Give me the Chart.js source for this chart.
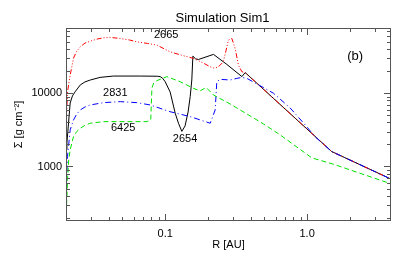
<!DOCTYPE html>
<html>
<head>
<meta charset="utf-8">
<title>Simulation Sim1</title>
<script src="https://cdn.jsdelivr.net/npm/chart.js@4.4.0/dist/chart.umd.min.js"></script>
<style>
  body { margin: 0; background: #fff; }
</style>
</head>
<body>
<canvas id="sigmaChart" width="415" height="270"></canvas>
<script>
// radius [AU] / surface density for each snapshot
const rRed = [0.0201, 0.0205, 0.0214, 0.0226, 0.0238, 0.0252, 0.0272, 0.0297, 0.0330, 0.0366, 0.041, 0.0482, 0.0560, 0.0632, 0.0750, 0.0875, 0.108, 0.130, 0.158, 0.185, 0.2075, 0.222, 0.236, 0.256, 0.268, 0.279, 0.295, 0.311, 0.328, 0.347, 0.366, 1.49, 3.9]
const sigRed = [4060, 10500, 17700, 30300, 37500, 43200, 48500, 51600, 55000, 57200, 58000, 56100, 53500, 50500, 48000, 45500, 36900, 33200, 30000, 26000, 23000, 22000, 22800, 26700, 38000, 53200, 56100, 41000, 24300, 19700, 19200, 1600, 673]

const rBlack = [0.0201, 0.0203, 0.0214, 0.0222, 0.0232, 0.0252, 0.0272, 0.0297, 0.0348, 0.0431, 0.0667, 0.0880, 0.0922, 0.0960, 0.1, 0.1084, 0.1176, 0.124, 0.131, 0.138, 0.145, 0.150, 0.154, 0.1567, 0.1640, 0.1717, 0.219, 0.272, 0.347, 0.366, 1.49, 3.9]
const sigBlack = [1690, 2100, 7380, 9200, 10500, 13000, 14300, 15200, 16500, 17200, 17200, 17100, 16900, 16000, 14400, 10400, 5350, 3900, 3020, 3580, 5560, 9000, 15200, 32200, 29500, 29000, 34000, 24800, 16900, 19200, 1600, 673]

const rBlue = [0.0201, 0.0205, 0.0214, 0.0226, 0.0238, 0.0252, 0.0272, 0.0297, 0.0367, 0.0482, 0.0632, 0.0784, 0.108, 0.150, 0.2075, 0.225, 0.231, 0.244, 0.287, 0.320, 0.347, 0.376, 0.460, 0.580, 0.759, 0.969, 1.14, 1.49, 3.9]
const sigBlue = [564, 1370, 3160, 4330, 5200, 5910, 6500, 6930, 7450, 7690, 7450, 6930, 5610, 4800, 3900, 5920, 14400, 15500, 15200, 16000, 16500, 16000, 12900, 10000, 6310, 3700, 2540, 1600, 673]

const rGreen = [0.0202, 0.0205, 0.0209, 0.0214, 0.0226, 0.0238, 0.0252, 0.0272, 0.0297, 0.0367, 0.0537, 0.0743, 0.0791, 0.0806, 0.0830, 0.0875, 0.1028, 0.1275, 0.158, 0.176, 0.1945, 0.219, 0.287, 0.376, 0.492, 0.646, 1.08, 1.52, 3.9]
const sigGreen = [301, 659, 1230, 1690, 2570, 3000, 3330, 3650, 3900, 4100, 4100, 4100, 4330, 11800, 13800, 14900, 16900, 14400, 11700, 10800, 12000, 9480, 7140, 5220, 3820, 2700, 1310, 1080, 580]

// curve labels
const noteText = ['2665', '2831', '6425', '2654', '(b)']
const noteR = [0.1016, 0.0445, 0.0506, 0.138, 2.18]
const noteSig = [62200, 10000, 3330, 2380, 31500]

const xTickVals = [0.1, 1]
const xTickText = ['0.1', '1.0']
const yTickVals = [1000, 10000]
const yTickText = ['1000', '10000']

const FONT = '"Liberation Sans", Arial, Helvetica, sans-serif'

function pts(rs, ss) {
    return rs.map((r, i) => ({x: r, y: ss[i]}))
}

function line(data, color, dash) {
    return {
        data: data,
        showLine: true,
        borderColor: color,
        borderWidth: 1,
        borderDash: dash,
        pointRadius: 0,
        tension: 0,
        fill: false
    }
}

// IDL-style box with inward ticks on all four sides, plus title and notes
const framePlugin = {
    id: 'frame',
    afterDatasetsDraw(chart) {
        const {ctx, chartArea: a, scales: {x, y}} = chart
        ctx.save()
        ctx.strokeStyle = '#555'
        ctx.lineWidth = 1
        ctx.strokeRect(a.left + 0.5, a.top + 0.5, a.right - a.left - 1, a.bottom - a.top - 1)
        ctx.beginPath()
        function logTicks(scale) {
            const out = []
            for (let e = Math.floor(Math.log10(scale.min)); e <= Math.ceil(Math.log10(scale.max)); e++) {
                for (let k = 1; k <= 9; k++) {
                    const v = k * Math.pow(10, e)
                    if (v > scale.min && v < scale.max) out.push({v: v, major: k === 1})
                }
            }
            return out
        }
        logTicks(x).forEach(t => {
            const px = Math.round(x.getPixelForValue(t.v)) + 0.5
            const len = t.major ? 7 : 4
            ctx.moveTo(px, a.bottom); ctx.lineTo(px, a.bottom - len)
            ctx.moveTo(px, a.top); ctx.lineTo(px, a.top + len)
        })
        logTicks(y).forEach(t => {
            const py = Math.round(y.getPixelForValue(t.v)) + 0.5
            const len = t.major ? 7 : 4
            ctx.moveTo(a.left, py); ctx.lineTo(a.left + len, py)
            ctx.moveTo(a.right, py); ctx.lineTo(a.right - len, py)
        })
        ctx.stroke()

        ctx.fillStyle = '#000'
        ctx.textAlign = 'center'
        ctx.textBaseline = 'middle'
        ctx.font = '11px ' + FONT
        noteText.forEach((t, i) => {
            if (t === '(b)') ctx.font = '13px ' + FONT
            ctx.fillText(t, x.getPixelForValue(noteR[i]), y.getPixelForValue(noteSig[i]))
        })
        ctx.font = '13px ' + FONT
        ctx.fillText('Simulation Sim1', (a.left + a.right) / 2 - 6, 18)
        ctx.restore()
    }
}

var options = {
    type: 'scatter',
    data: {
        datasets: [
            line(pts(rGreen, sigGreen), '#00e000', [5, 3]),
            line(pts(rBlue, sigBlue), '#0000ff', [6, 3, 1, 3]),
            line(pts(rRed, sigRed), '#ff0000', [5, 2, 1, 2, 1, 2, 1, 2]),
            line(pts(rBlack, sigBlack), '#000000', [])
        ]
    },
    options: {
        responsive: false,
        animation: false,
        layout: {
            padding: {top: 28, right: 24, bottom: 0, left: 0}
        },
        plugins: {
            legend: {display: false},
            tooltip: {enabled: false},
            title: {display: false}
        },
        scales: {
            x: {
                type: 'logarithmic',
                min: 0.02,
                max: 3.9,
                grid: {display: false, drawTicks: false},
                border: {display: false},
                afterBuildTicks: s => { s.ticks = xTickVals.map(v => ({value: v})) },
                afterFit: s => { s.height = 49 },
                ticks: {
                    autoSkip: false,
                    maxRotation: 0,
                    padding: 6,
                    color: '#000',
                    font: {family: FONT, size: 11},
                    callback: v => xTickText[xTickVals.findIndex(t => Math.abs(t - v) < 1e-9)] || ''
                },
                title: {
                    display: true,
                    text: 'R [AU]',
                    color: '#000',
                    font: {family: FONT, size: 11},
                    padding: {top: 0, bottom: 18}
                }
            },
            y: {
                type: 'logarithmic',
                min: 180,
                max: 78000,
                grid: {display: false, drawTicks: false},
                border: {display: false},
                afterBuildTicks: s => { s.ticks = yTickVals.map(v => ({value: v})) },
                afterFit: s => { s.width = 66 },
                ticks: {
                    autoSkip: false,
                    padding: 4,
                    color: '#000',
                    font: {family: FONT, size: 11},
                    callback: v => yTickText[yTickVals.findIndex(t => Math.abs(t - v) < 1e-6)] || ''
                },
                title: {
                    display: true,
                    text: 'Σ [g cm⁻²]',
                    color: '#000',
                    font: {family: FONT, size: 11},
                    padding: {top: 12, bottom: 0}
                }
            }
        }
    },
    plugins: [framePlugin]
}

var context = document.getElementById('sigmaChart').getContext('2d')
var sigmaChart = new Chart(context, options)
</script>
</body>
</html>
